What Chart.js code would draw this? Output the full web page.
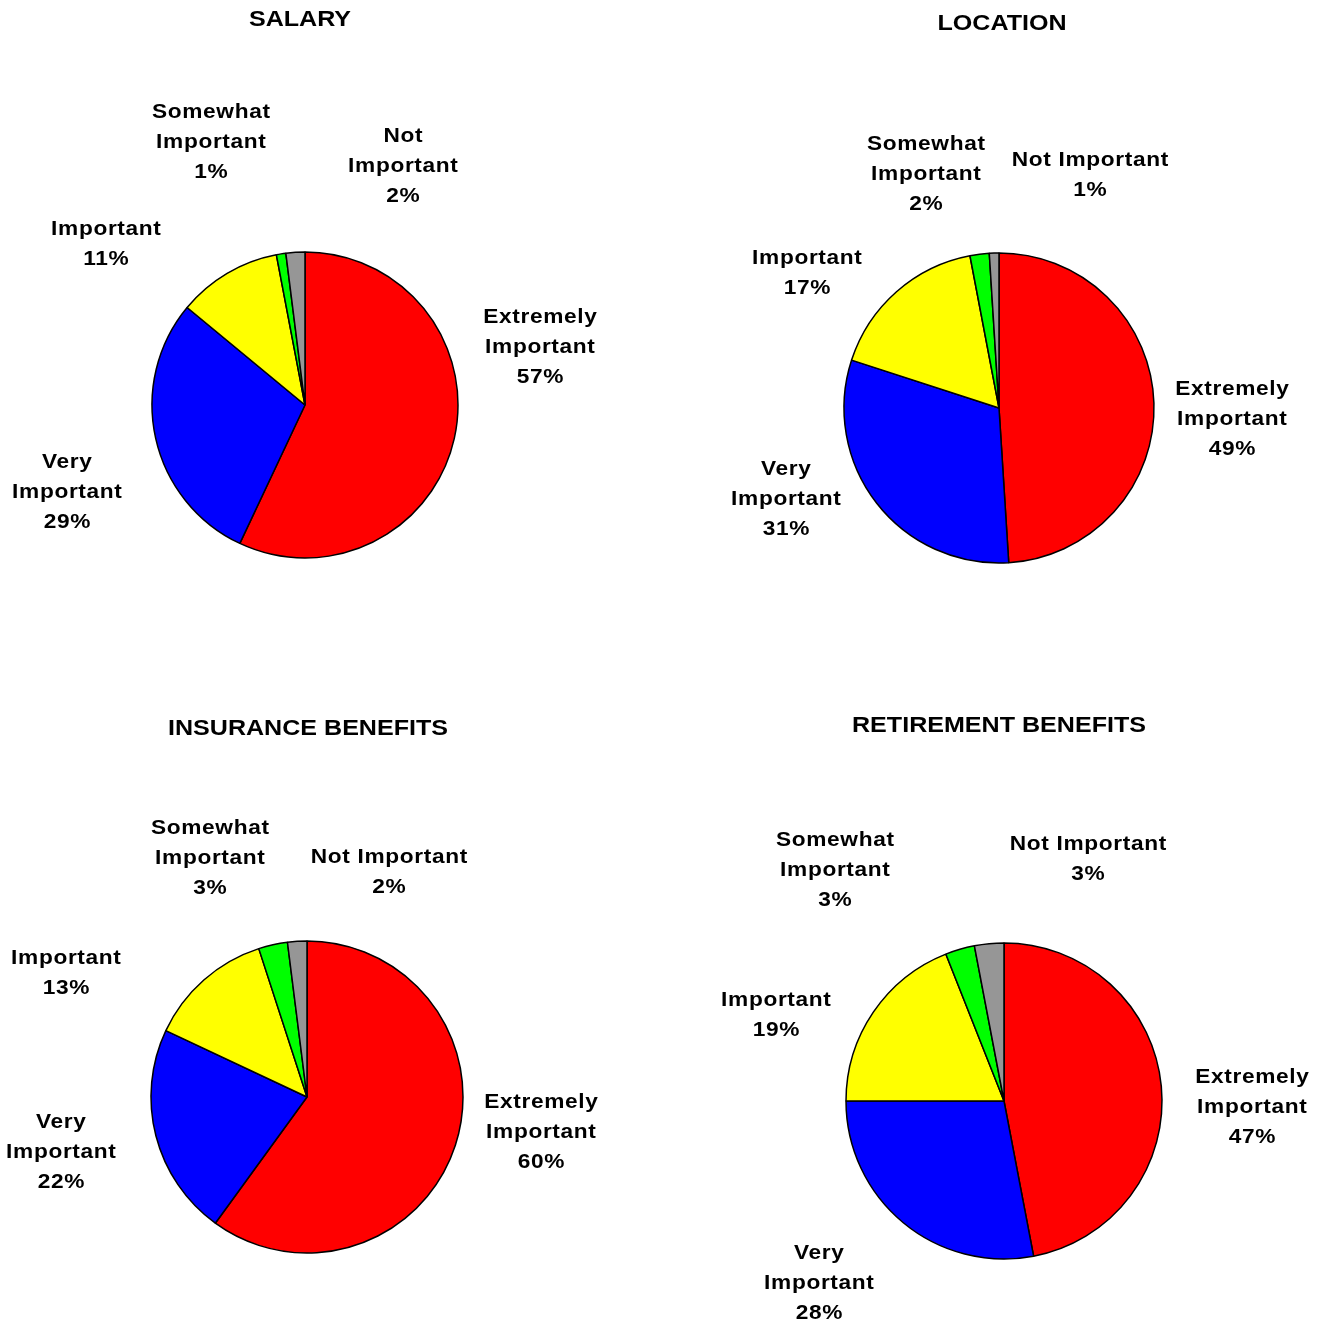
<!DOCTYPE html>
<html>
<head>
<meta charset="utf-8">
<script src="https://cdn.jsdelivr.net/npm/chart.js@4.4.0/dist/chart.umd.min.js"></script>
<style>
  body { margin:0; background:#fff; }
  #page { position:relative; width:1323px; height:1320px; }
  #page canvas { position:absolute; }
</style>
</head>
<body>
<div id="page">
  <canvas id="chart-salary" width="661" height="660" style="left:0;top:0"></canvas>
  <canvas id="chart-location" width="662" height="660" style="left:661px;top:0"></canvas>
  <canvas id="chart-insurance" width="661" height="660" style="left:0;top:660px"></canvas>
  <canvas id="chart-retirement" width="662" height="660" style="left:661px;top:660px"></canvas>
</div>
<script>
const categories = ['Extremely Important', 'Very Important', 'Important', 'Somewhat Important', 'Not Important'];
const sliceColors = ['#ff0000', '#0000ff', '#ffff00', '#00ff00', '#969696'];

const salaryValues     = [57, 29, 11, 1, 2];
const locationValues   = [49, 31, 17, 2, 1];
const insuranceValues  = [60, 22, 13, 3, 2];
const retirementValues = [47, 28, 19, 3, 3];

// page coords: box = canvas origin, center/r = pie, labels = first-line centre of each label
const charts = [
  { id: 'chart-salary', title: 'SALARY', values: salaryValues,
    box: [0, 0, 661, 660], center: [305, 405], r: 153, titlePos: [300, 20],
    labels: [
      { x: 540, y: 317, split: true },
      { x: 67,  y: 462, split: true },
      { x: 106, y: 229, split: false },
      { x: 211, y: 112, split: true },
      { x: 403, y: 136, split: true },
    ] },
  { id: 'chart-location', title: 'LOCATION', values: locationValues,
    box: [661, 0, 662, 660], center: [999, 408], r: 155, titlePos: [1002, 24],
    labels: [
      { x: 1232, y: 389, split: true },
      { x: 786,  y: 469, split: true },
      { x: 807,  y: 258, split: false },
      { x: 926,  y: 144, split: true },
      { x: 1090, y: 160, split: false },
    ] },
  { id: 'chart-insurance', title: 'INSURANCE BENEFITS', values: insuranceValues,
    box: [0, 660, 661, 660], center: [307, 1097], r: 156, titlePos: [308, 729],
    labels: [
      { x: 541, y: 1102, split: true },
      { x: 61,  y: 1122, split: true },
      { x: 66,  y: 958,  split: false },
      { x: 210, y: 828,  split: true },
      { x: 389, y: 857,  split: false },
    ] },
  { id: 'chart-retirement', title: 'RETIREMENT BENEFITS', values: retirementValues,
    box: [661, 660, 662, 660], center: [1004, 1101], r: 158, titlePos: [999, 726],
    labels: [
      { x: 1252, y: 1077, split: true },
      { x: 819,  y: 1253, split: true },
      { x: 776,  y: 1000, split: false },
      { x: 835,  y: 840,  split: true },
      { x: 1088, y: 844,  split: false },
    ] },
];

// the original text is wide Arial bold, so stretch it a little sideways
function wideText(ctx, text, x, y, stretch, spacing) {
  ctx.save();
  ctx.letterSpacing = spacing + 'px';
  ctx.translate(x + spacing * stretch / 2, y);
  ctx.scale(stretch, 1);
  ctx.fillText(text, 0, 0);
  ctx.restore();
}

function makeLabelPlugin(spec) {
  const [bx, by] = spec.box;
  return {
    id: 'sliceLabels',
    afterDraw(chart) {
      const ctx = chart.ctx;
      ctx.save();
      ctx.fillStyle = '#000';
      ctx.textAlign = 'center';
      ctx.textBaseline = 'middle';

      ctx.font = 'bold 22px "Liberation Sans", Arial, sans-serif';
      wideText(ctx, spec.title, spec.titlePos[0] - bx, spec.titlePos[1] - by, 1.14, 0);

      ctx.font = 'bold 21px "Liberation Sans", Arial, sans-serif';
      const values = chart.data.datasets[0].data;
      chart.data.labels.forEach((name, i) => {
        const pos = spec.labels[i];
        const lines = pos.split ? name.split(' ') : [name];
        lines.push(values[i] + '%');
        lines.forEach((line, j) => wideText(ctx, line, pos.x - bx, pos.y - by + j * 30, 1.08, 0.6));
      });
      ctx.restore();
    }
  };
}

charts.forEach(spec => {
  const [bx, by, bw, bh] = spec.box;
  const [cx, cy] = spec.center;
  new Chart(document.getElementById(spec.id), {
    type: 'pie',
    data: {
      labels: categories,
      datasets: [{ data: spec.values, backgroundColor: sliceColors, borderColor: '#000', borderWidth: 1.5 }]
    },
    options: {
      responsive: false, animation: false, devicePixelRatio: 1,
      radius: spec.r,
      layout: { padding: {
        left: cx - bx - spec.r, right: bx + bw - cx - spec.r,
        top: cy - by - spec.r, bottom: by + bh - cy - spec.r
      } },
      plugins: { legend: { display: false }, tooltip: { enabled: false } }
    },
    plugins: [makeLabelPlugin(spec)]
  });
});
</script>
</body>
</html>
